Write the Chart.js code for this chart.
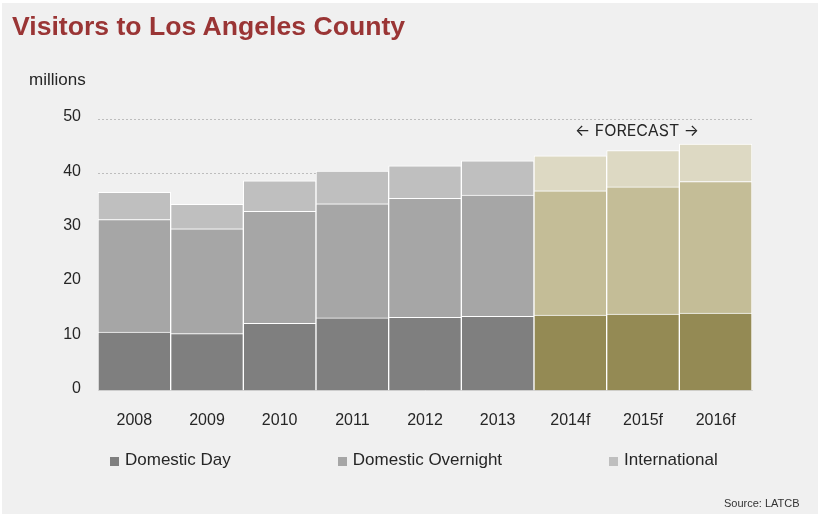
<!DOCTYPE html>
<html lang="en">
<head>
  <meta charset="UTF-8">
  <title>Visitors to Los Angeles County</title>
  <script src="https://cdn.jsdelivr.net/npm/chart.js"></script>
  <style>
    html, body { margin: 0; padding: 0; background: #ffffff; }
    body { width: 820px; height: 516px; position: relative; overflow: hidden;
           font-family: "Liberation Sans", Arial, sans-serif; color: #262626; }
    .panel { position: absolute; left: 2px; top: 3px; width: 816px; height: 511px; background: #f0f0f0; }
    #visitorsChart { position: absolute; left: 0; top: 0; }
    .title { position: absolute; left: 12px; top: 11px; margin: 0; font-size: 26.6px; font-weight: bold;
             color: #9a3535; white-space: nowrap; }
    .unit { position: absolute; left: 29px; top: 70px; font-size: 17px; }
    .legend { position: absolute; left: 110px; top: 450px; display: flex; gap: 107px; font-size: 17px; }
    .legend-item { display: flex; align-items: flex-end; white-space: nowrap; }
    .legend-box { width: 9px; height: 9px; margin: 0 6px 4px 0; }
    .source { position: absolute; left: 724px; top: 497px; font-size: 11px; color: #333; }
  </style>
</head>
<body>
  <div class="panel"></div>
  <canvas id="visitorsChart" width="820" height="516"></canvas>
  <h1 class="title">Visitors to Los Angeles County</h1>
  <div class="unit">millions</div>
  <div class="legend" id="legend"></div>
  <div class="source">Source: LATCB</div>

  <script>
    // visitors in millions, "f" years are forecasts
    const years = ['2008', '2009', '2010', '2011', '2012', '2013', '2014f', '2015f', '2016f'];
    const domesticDay = [10.8, 10.5, 12.4, 13.4, 13.5, 13.7, 13.9, 14.1, 14.3];
    const domesticOvernight = [20.7, 19.3, 20.6, 21.0, 21.9, 22.3, 22.9, 23.4, 24.2];
    const international = [5.0, 4.5, 5.6, 6.0, 6.0, 6.3, 6.4, 6.7, 6.9];
    const yTicks = [0, 10, 20, 30, 40, 50];
    const firstForecast = 6;

    const seriesNames = ['Domestic Day', 'Domestic Overnight', 'International'];
    const actualColors = ['#7f7f7f', '#a6a6a6', '#bfbfbf'];
    const forecastColors = ['#948a54', '#c4bd97', '#ddd9c3'];

    function barColors(i) {
      return years.map((y, k) => k >= firstForecast ? forecastColors[i] : actualColors[i]);
    }

    // "← FORECAST →" label over the forecast years
    const forecastLabel = {
      id: 'forecastLabel',
      afterDatasetsDraw(chart) {
        const x = chart.scales.x;
        const y = chart.scales.y;
        const mid = (x.getPixelForValue(firstForecast) + x.getPixelForValue(years.length - 1)) / 2;
        const ctx = chart.ctx;
        ctx.save();
        ctx.font = '16px Inter, "Liberation Sans", Arial, sans-serif';
        ctx.fillStyle = '#262626';
        ctx.textAlign = 'center';
        ctx.textBaseline = 'middle';
        ctx.fillText('\u2190 FORECAST \u2192', mid - 6, y.getPixelForValue(47.7));
        ctx.restore();
      }
    };

    const ctx = document.getElementById('visitorsChart').getContext('2d');
    new Chart(ctx, {
      type: 'bar',
      data: {
        labels: years,
        datasets: [domesticDay, domesticOvernight, international].map((values, i) => ({
          label: seriesNames[i],
          data: values,
          backgroundColor: barColors(i),
          borderColor: '#ffffff',
          borderWidth: 1,
          barPercentage: 1,
          categoryPercentage: 1
        }))
      },
      options: {
        responsive: false,
        animation: false,
        layout: { padding: { top: 119, right: 68, left: 0, bottom: 0 } },
        plugins: {
          legend: { display: false },
          title: { display: false },
          tooltip: { enabled: false }
        },
        scales: {
          x: {
            stacked: true,
            afterFit(scale) { scale.height = 125.3; },
            grid: { display: false },
            border: { display: true, color: '#d6d6d6' },
            ticks: {
              color: '#262626',
              padding: 12,
              font: { family: '"Liberation Sans", Arial, sans-serif', size: 16 }
            }
          },
          y: {
            stacked: true,
            min: yTicks[0],
            max: yTicks[yTicks.length - 1],
            afterFit(scale) { scale.width = 98; },
            afterBuildTicks(scale) { scale.ticks = yTicks.map(v => ({ value: v })); },
            grid: { color: '#bdbdbd', drawTicks: false },
            border: { display: false, dash: [2, 2] },
            ticks: {
              color: '#262626',
              padding: 17,
              labelOffset: -2,
              font: { family: '"Liberation Sans", Arial, sans-serif', size: 16 }
            }
          }
        }
      },
      plugins: [forecastLabel]
    });

    // legend uses the actual-year colours
    const legend = document.getElementById('legend');
    seriesNames.forEach((name, i) => {
      const item = document.createElement('div');
      item.className = 'legend-item';
      const box = document.createElement('span');
      box.className = 'legend-box';
      box.style.background = actualColors[i];
      item.appendChild(box);
      item.appendChild(document.createTextNode(name));
      legend.appendChild(item);
    });
  </script>
</body>
</html>
